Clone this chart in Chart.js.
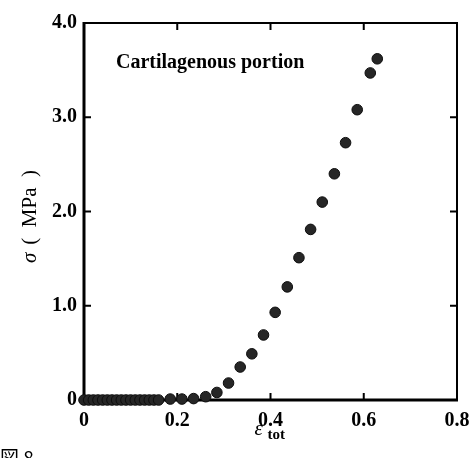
<!DOCTYPE html>
<html>
<head>
<meta charset="utf-8">
<script src="https://cdn.jsdelivr.net/npm/chart.js@4.4.0/dist/chart.umd.min.js"></script>
<style>
  html, body { margin: 0; padding: 0; background: #fff; }
  #wrap { width: 472px; height: 458px; position: relative; }
</style>
</head>
<body>
<div id="wrap"><canvas id="c" width="472" height="458"></canvas></div>
<script>
// ---- data ----
const strainValues = [0, 0.01, 0.02, 0.03, 0.04, 0.05, 0.06, 0.07, 0.08, 0.09, 0.10, 0.11, 0.12, 0.13, 0.14, 0.15, 0.16,
  0.185, 0.210, 0.235, 0.261, 0.285, 0.310, 0.335, 0.360, 0.385, 0.410, 0.436, 0.461, 0.486, 0.511, 0.537, 0.561, 0.586, 0.614, 0.629];
const stressValues = [0, 0, 0, 0, 0, 0, 0, 0, 0, 0, 0, 0, 0, 0, 0, 0, 0,
  0.01, 0.01, 0.015, 0.035, 0.08, 0.18, 0.35, 0.49, 0.69, 0.93, 1.20, 1.51, 1.81, 2.10, 2.40, 2.73, 3.08, 3.47, 3.62];
const xTickValues = [0, 0.2, 0.4, 0.6, 0.8];
const xTickLabels = ['0', '0.2', '0.4', '0.6', '0.8'];
const yTickValues = [0, 1, 2, 3, 4];
const yTickLabels = ['0', '1.0', '2.0', '3.0', '4.0'];
const annotationText = 'Cartilagenous portion';
const yTitleSymbol = 'σ';
const yTitleUnit = '(  MPa  )';
const xTitleMain = 'ε';
const xTitleSub = 'tot';
const figLabel = '図 8';

const points = strainValues.map((x, i) => ({ x: x, y: stressValues[i] }));
const serif = '"Liberation Serif", "Times New Roman", serif';

const framePlugin = {
  id: 'frame',
  beforeDatasetsDraw(chart) {
    const { ctx, chartArea: a } = chart;
    const xs = chart.scales.x, ys = chart.scales.y;
    ctx.save();
    ctx.strokeStyle = '#000';
    ctx.lineCap = 'butt';
    ctx.lineWidth = 2;
    ctx.beginPath();
    ctx.moveTo(a.left, a.top); ctx.lineTo(a.right + 1, a.top);
    ctx.moveTo(a.right, a.top); ctx.lineTo(a.right, a.bottom);
    ctx.stroke();
    ctx.lineWidth = 3;
    ctx.beginPath();
    ctx.moveTo(a.left, a.top - 1); ctx.lineTo(a.left, a.bottom + 1.5);
    ctx.moveTo(a.left - 1.5, a.bottom); ctx.lineTo(a.right + 1, a.bottom);
    ctx.stroke();
    ctx.lineWidth = 2;
    const tl = 7;
    ctx.beginPath();
    xTickValues.slice(1, -1).forEach(v => {
      const px = xs.getPixelForValue(v);
      ctx.moveTo(px, a.bottom); ctx.lineTo(px, a.bottom - tl);
      ctx.moveTo(px, a.top); ctx.lineTo(px, a.top + tl);
    });
    yTickValues.slice(1, -1).forEach(v => {
      const py = ys.getPixelForValue(v);
      ctx.moveTo(a.left, py); ctx.lineTo(a.left + tl, py);
      ctx.moveTo(a.right, py); ctx.lineTo(a.right - tl, py);
    });
    ctx.stroke();
    ctx.restore();
  },
  afterDraw(chart) {
    const { ctx, chartArea: a } = chart;
    ctx.save();
    ctx.fillStyle = '#000';
    ctx.font = 'bold 20px ' + serif;
    ctx.textAlign = 'left';
    ctx.textBaseline = 'alphabetic';
    ctx.fillText(annotationText, 116, 68);
    // y title, reading bottom to top
    ctx.save();
    ctx.translate(36, 263);
    ctx.rotate(-Math.PI / 2);
    ctx.textAlign = 'left';
    ctx.textBaseline = 'alphabetic';
    ctx.font = 'italic 21px ' + serif;
    ctx.fillText(yTitleSymbol, 0, 0);
    const w = ctx.measureText(yTitleSymbol).width;
    ctx.font = '21px ' + serif;
    ctx.fillText(yTitleUnit, w + 8, 0);
    ctx.restore();
    // x title
    ctx.font = 'italic 21px ' + serif;
    ctx.textAlign = 'left';
    ctx.textBaseline = 'alphabetic';
    const cx = (a.left + a.right) / 2;
    ctx.fillText(xTitleMain, cx - 16, 435);
    ctx.font = 'bold 15px ' + serif;
    ctx.fillText(xTitleSub, cx - 3, 439);
    ctx.font = '19px "Noto Sans CJK JP", sans-serif';
    ctx.textBaseline = 'top';
    ctx.fillText(figLabel, 0, 448);
    ctx.restore();
  }
};

new Chart(document.getElementById('c'), {
  type: 'scatter',
  data: {
    datasets: [{
      data: points,
      backgroundColor: '#262626',
      borderColor: '#0d0d0d',
      borderWidth: 1,
      pointRadius: 5.3,
      clip: false
    }]
  },
  options: {
    responsive: false,
    animation: false,
    devicePixelRatio: 1,
    layout: { padding: { top: 23, right: 15, left: 0, bottom: 0 } },
    plugins: { legend: { display: false }, tooltip: { enabled: false } },
    scales: {
      x: {
        type: 'linear', min: 0, max: 0.8,
        afterBuildTicks(scale) { scale.ticks = xTickValues.map(v => ({ value: v })); },
        afterFit(scale) { scale.height = 58; scale.paddingLeft = 0; scale.paddingRight = 0; },
        grid: { display: false, drawTicks: false },
        border: { display: false },
        ticks: {
          padding: 9,
          color: '#000',
          font: { family: serif, size: 20, weight: 'bold' },
          callback: (v, i) => xTickLabels[i]
        }
      },
      y: {
        type: 'linear', min: 0, max: 4,
        afterBuildTicks(scale) { scale.ticks = yTickValues.map(v => ({ value: v })); },
        afterFit(scale) { scale.width = 84; scale.paddingTop = 0; scale.paddingBottom = 0; },
        grid: { display: false, drawTicks: false },
        border: { display: false },
        ticks: {
          padding: 7,
          color: '#000',
          font: { family: serif, size: 20, weight: 'bold' },
          callback: (v, i) => yTickLabels[i]
        }
      }
    }
  },
  plugins: [framePlugin]
});
</script>
</body>
</html>
